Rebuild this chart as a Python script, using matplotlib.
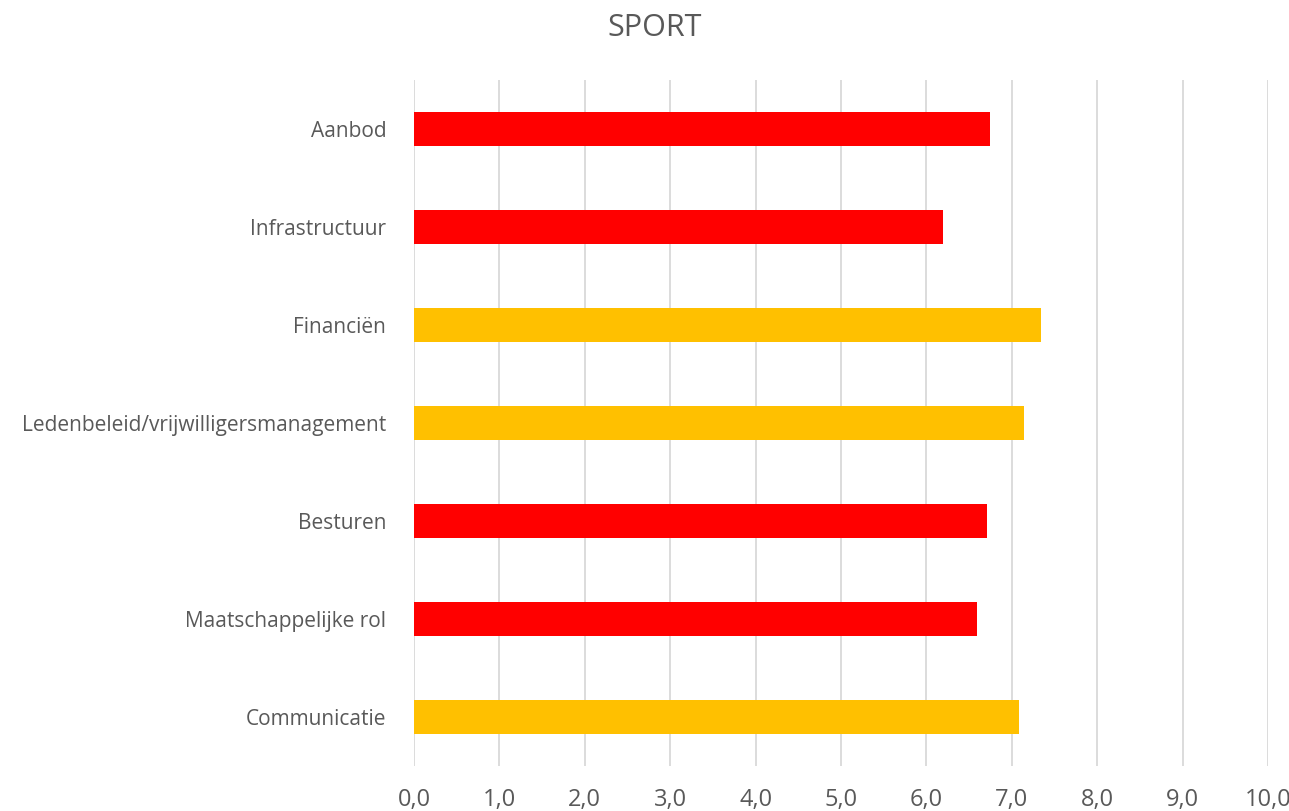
import matplotlib
matplotlib.use('Agg')
import matplotlib.pyplot as plt
from matplotlib.ticker import FuncFormatter

categories = ["Aanbod", "Infrastructuur", "Financiën",
              "Ledenbeleid/vrijwilligersmanagement", "Besturen",
              "Maatschappelijke rol", "Communicatie"]
scores = [6.75, 6.20, 7.34, 7.14, 6.71, 6.59, 7.09]
colors = ["#FF0000", "#FF0000", "#FFC000", "#FFC000",
          "#FF0000", "#FF0000", "#FFC000"]
x_ticks = list(range(0, 11))

plt.rcParams['font.family'] = ['Open Sans', 'DejaVu Sans']
text_color = '#595959'

fig = plt.figure(figsize=(12.89, 8.11), dpi=100)
ax = fig.add_axes([0.3212, 0.0555, 0.6625, 0.8459])

y = range(len(categories))
ax.barh(list(y), scores, height=0.35, color=colors, zorder=3)
ax.set_yticks(list(y))
ax.set_yticklabels(categories)
ax.set_ylim(len(categories) - 0.5, -0.5)

ax.set_xlim(0, 10)
ax.set_xticks(x_ticks)
ax.xaxis.set_major_formatter(FuncFormatter(lambda v, p: f"{v:.1f}".replace('.', ',')))
ax.grid(axis='x', color='#d9d9d9', linewidth=1.3, zorder=0)

for s in ax.spines.values():
    s.set_visible(False)
ax.tick_params(axis='both', length=0, colors=text_color)
ax.tick_params(axis='y', pad=20, labelsize=15)
ax.tick_params(axis='x', pad=16, labelsize=17)

fig.text(0.508, 0.966, "SPORT", ha='center', va='center',
         fontsize=22, color=text_color)

plt.savefig("out.png", dpi=100, facecolor='white')
plt.close()
